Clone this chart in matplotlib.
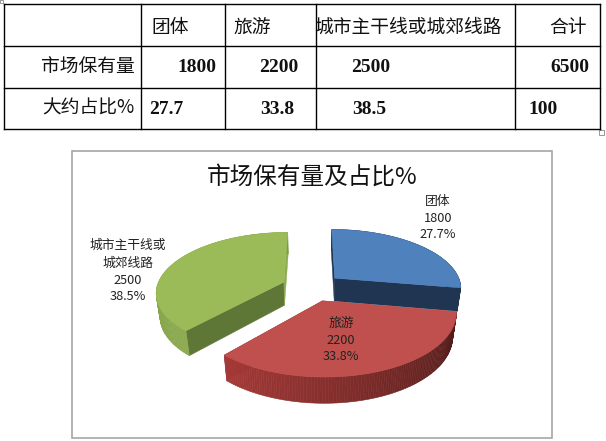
import numpy as np
import matplotlib
matplotlib.use("Agg")
import matplotlib.pyplot as plt
from matplotlib.patches import Polygon, Rectangle

plt.rcParams['font.family'] = ['Noto Sans CJK SC', 'DejaVu Sans']

# data
categories = ['团体', '旅游', '城市主干线或城郊线路']
values = [1800, 2200, 2500]
percents = [27.7, 33.8, 38.5]
total = 6500
row_names = ['市场保有量', '大约占比%']
chart_title = '市场保有量及占比%'

# pie look: camera numbers for the fake 3D view
X0, Y0 = 312, 287
SX, SY, DEPTH = 127, 59, 24
PERSP, SHRINK, EXPLODE = 0.16, 0.025, 0.24

top_colors = ['#4F81BD', '#C0504D', '#9BBB59']
side_colors = ['#1F3552', '#7A2B29', '#5F7736']
rim_colors = [('#1F3552', '#1F3552'), ('#4A1A18', '#A63A38'), ('#8CAA50', '#7E9A47')]


def project(x, y, d):
    w = 1 + PERSP * y + SHRINK * d
    return X0 + SX * x / w, Y0 - (SY * y - DEPTH * d) / w


def hex_mix(c1, c2, t):
    a = np.array(matplotlib.colors.to_rgb(c1))
    b = np.array(matplotlib.colors.to_rgb(c2))
    return a + (b - a) * t


def draw_slice(ax, start, end, i):
    mid = np.radians((start + end) / 2)
    ex, ey = EXPLODE * np.sin(mid), EXPLODE * np.cos(mid)
    ang = np.radians(np.linspace(start, end, 120))
    rx, ry = ex + np.sin(ang), ey + np.cos(ang)

    # flat walls
    for k in [0, -1]:
        px, py = zip(project(ex, ey, 0), project(rx[k], ry[k], 0),
                     project(rx[k], ry[k], 1), project(ex, ey, 1))
        color = side_colors[i] if k == -1 or i == 0 else rim_colors[i][1]
        if i == 2 and k == 0:
            color = side_colors[2]
        if i == 2 and k == -1:
            color = '#8CAA50'
        ax.add_patch(Polygon(np.c_[px, py], fc=color, ec=color, lw=0.3))

    # curved wall, cut in small pieces for the shading
    for j in range(len(ang) - 1):
        px, py = zip(project(rx[j], ry[j], 0), project(rx[j + 1], ry[j + 1], 0),
                     project(rx[j + 1], ry[j + 1], 1), project(rx[j], ry[j], 1))
        c = hex_mix(rim_colors[i][0], rim_colors[i][1], j / (len(ang) - 2))
        ax.add_patch(Polygon(np.c_[px, py], fc=c, ec=c, lw=0.4))

    # top
    tx, ty = project(np.r_[ex, rx], np.r_[ey, ry], 0)
    ax.add_patch(Polygon(np.c_[tx, ty], fc=top_colors[i], ec=top_colors[i], lw=0.4))


def draw_table(ax):
    xs = [4, 141, 225, 316, 515, 600]
    ys = [4, 46, 88, 129]
    for x in xs:
        ax.plot([x, x], [ys[0], ys[-1]], color='black', lw=1)
    for y in ys:
        ax.plot([xs[0], xs[-1]], [y, y], color='black', lw=1)

    num = dict(family='Liberation Serif', weight='bold', fontsize=14, ha='center', va='center', color='#111111')
    cjk = dict(fontsize=13.5, va='center', color='#111111')

    ax.text(170, 27, categories[0], ha='center', **cjk)
    ax.text(252, 27, categories[1], ha='center', **cjk)
    t = ax.text(408, 27, categories[2], ha='center', **cjk)
    t.set_clip_path(Rectangle((317, 5), 197, 40, transform=ax.transData))
    ax.text(568, 27, '合计', ha='center', **cjk)
    ax.text(135, 67, row_names[0], ha='right', **cjk)
    ax.text(134, 108, row_names[1], ha='right', **cjk)

    for x, v in zip([197, 279, 371], values):
        ax.text(x, 68, str(v), **num)
    ax.text(570, 68, str(total), **num)
    for x, p in zip([166, 277, 369], percents):
        ax.text(x, 110, str(p), **num)
    ax.text(543, 110, '100', **num)

    # selection handles of the pasted table
    ax.add_patch(Rectangle((599, 130), 5, 5, fc='white', ec='#888888', lw=0.6))
    ax.add_patch(Rectangle((0, 0), 3, 3, fc='white', ec='#888888', lw=0.6))


def main():
    fig = plt.figure(figsize=(6.06, 4.41), dpi=100)
    ax = fig.add_axes([0, 0, 1, 1])
    ax.set_xlim(0, 606)
    ax.set_ylim(441, 0)
    ax.axis('off')

    draw_table(ax)

    # chart frame
    ax.add_patch(Rectangle((72, 151), 480, 287, fc='white', ec='#A6A6A6', lw=1.2))
    ax.text(312, 177, chart_title, ha='center', va='center', fontsize=17, color='#111111')

    # slice angles come from the values, clockwise from the top
    edges = np.r_[0, np.cumsum(values)] / np.sum(values) * 360
    for i in [2, 0, 1]:
        draw_slice(ax, edges[i], edges[i + 1], i)

    lab = dict(ha='center', va='center', fontsize=9.2, color='#222222')
    for y, s in zip([202, 218, 235], [categories[0], str(values[0]), f'{percents[0]}%']):
        ax.text(438, y, s, **lab)
    for y, s in zip([323, 340, 357], [categories[1], str(values[1]), f'{percents[1]}%']):
        ax.text(341, y, s, **lab)
    for y, s in zip([245, 263, 280, 297], [categories[2][:6], categories[2][6:], str(values[2]), f'{percents[2]}%']):
        ax.text(128, y, s, **lab)

    fig.savefig('out.png', dpi=100)


if __name__ == "__main__":
    main()
